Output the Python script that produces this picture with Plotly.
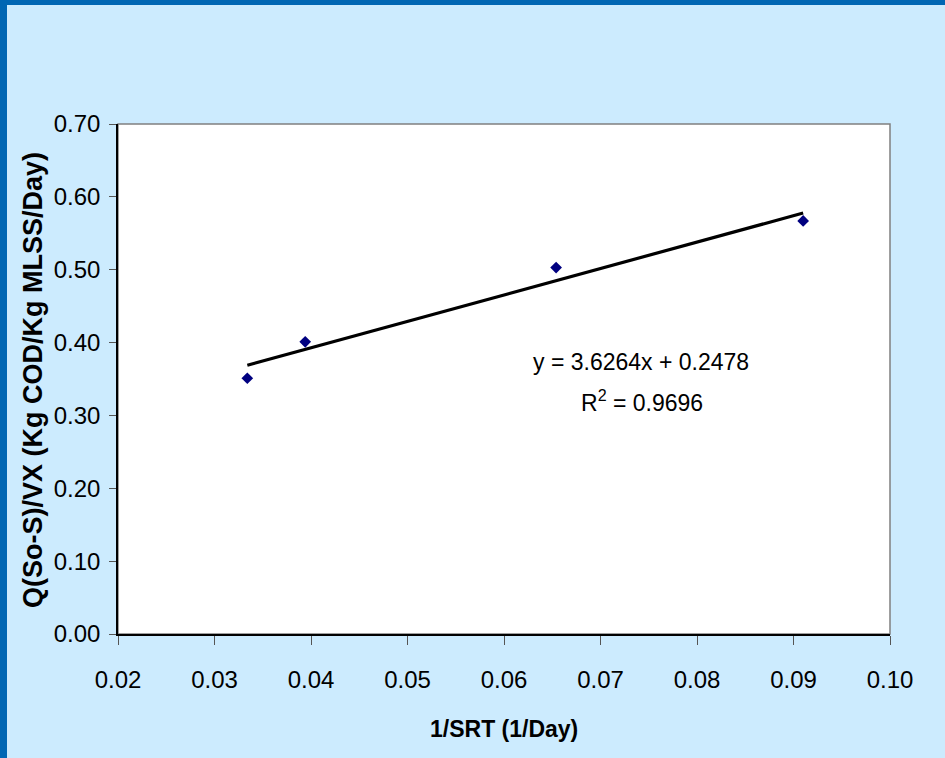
import plotly.graph_objects as go

# Data
srt_inv = [0.0334, 0.0394, 0.0654, 0.0910]
utilization = [0.351, 0.401, 0.503, 0.567]
slope = 3.6264
intercept = 0.2478
r_squared = 0.9696
x_ticks = [0.02, 0.03, 0.04, 0.05, 0.06, 0.07, 0.08, 0.09, 0.10]
y_ticks = [0.00, 0.10, 0.20, 0.30, 0.40, 0.50, 0.60, 0.70]

W, H = 945, 758
L, R, T, B = 118, 55, 124, 124
pw, ph = W - L - R, H - T - B

def px_x(p):
    return (p - L) / pw

def px_y(p):
    return (H - B - p) / ph

font = "Liberation Sans, Arial, sans-serif"
bg = "#CCEBFE"
edge = "#0066B3"

trend_x = [min(srt_inv), max(srt_inv)]
trend_y = [slope * v + intercept for v in trend_x]

fig = go.Figure()
fig.add_trace(go.Scatter(x=trend_x, y=trend_y, mode="lines",
                         line=dict(color="black", width=3.2), hoverinfo="skip"))
fig.add_trace(go.Scatter(x=srt_inv, y=utilization, mode="markers",
                         marker=dict(symbol="diamond", size=9, color="#000080")))

fig.update_layout(
    width=W, height=H,
    margin=dict(l=L, r=R, t=T, b=B),
    paper_bgcolor=bg, plot_bgcolor="white",
    showlegend=False,
    font=dict(family=font, size=23, color="black"),
    xaxis=dict(range=[0.02, 0.10], tickvals=x_ticks,
               ticktext=[f"{v:.2f}" for v in x_ticks],
               showgrid=False, zeroline=False, showline=True,
               linecolor="black", linewidth=1.5,
               ticks="outside", ticklen=9, tickcolor="#555555",
               ticklabelstandoff=14,
               tickfont=dict(size=24)),
    yaxis=dict(range=[0, 0.70], tickvals=y_ticks,
               ticktext=[f"{v:.2f}" for v in y_ticks],
               showgrid=False, zeroline=False, showline=True,
               linecolor="black", linewidth=1.5,
               ticks="outside", ticklen=7, tickcolor="#555555",
               ticklabelstandoff=4,
               tickfont=dict(size=24)),
    shapes=[
        dict(type="rect", xref="paper", yref="paper", x0=0, x1=1, y0=0, y1=1,
             line=dict(color="#808080", width=1.5), layer="below"),
        dict(type="rect", xref="paper", yref="paper",
             x0=px_x(0), x1=px_x(7), y0=px_y(H), y1=px_y(0),
             fillcolor=edge, line=dict(width=0)),
        dict(type="rect", xref="paper", yref="paper",
             x0=px_x(0), x1=px_x(W), y0=px_y(5), y1=px_y(0),
             fillcolor=edge, line=dict(width=0)),
    ],
    annotations=[
        dict(text=f"y = {slope}x + {intercept}", xref="paper", yref="paper",
             x=px_x(641), y=px_y(362), showarrow=False,
             xanchor="center", yanchor="middle", font=dict(size=23)),
        dict(text=f"R<sup>2</sup> = {r_squared}", xref="paper", yref="paper",
             x=px_x(642), y=px_y(401), showarrow=False,
             xanchor="center", yanchor="middle", font=dict(size=23)),
        dict(text="<b>1/SRT (1/Day)</b>", xref="paper", yref="paper",
             x=px_x(504), y=px_y(729), showarrow=False,
             xanchor="center", yanchor="middle", font=dict(size=23)),
        dict(text="<b>Q(So-S)/VX (Kg COD/Kg MLSS/Day)</b>", xref="paper", yref="paper",
             x=px_x(33), y=px_y(380), showarrow=False, textangle=-90,
             xanchor="center", yanchor="middle", font=dict(size=27)),
    ],
)

fig.write_html("out.html")
